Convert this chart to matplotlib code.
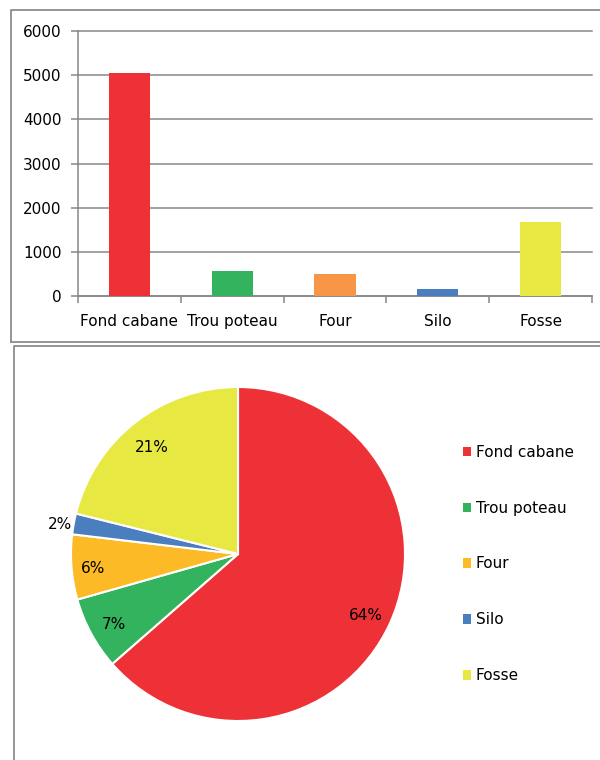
import matplotlib
matplotlib.use('Agg')
import matplotlib.pyplot as plt
from matplotlib.lines import Line2D
from matplotlib.patches import Patch

# data
categories = ['Fond cabane', 'Trou poteau', 'Four', 'Silo', 'Fosse']
counts = [5060, 560, 500, 160, 1680]
yticks = [0, 1000, 2000, 3000, 4000, 5000, 6000]

bar_colors = ['#EE3137', '#33B35D', '#F79646', '#4A7EBF', '#E8E843']
pie_colors = ['#EE3137', '#33B35D', '#FBBA26', '#4A7EBF', '#E8E843']
grey = '#878787'

W, H = 600, 760
plt.rcParams['font.family'] = ['DejaVu Sans']
fig = plt.figure(figsize=(W / 100, H / 100), dpi=100)


def fx(px):
    return px / W


def fy(py):
    return 1 - py / H


# panel frames
frame_kw = dict(color='#8c8c8c', lw=1.3, transform=fig.transFigure)
fig.add_artist(Line2D([fx(11), fx(11), 1.02, 1.02], [fy(342), fy(10), fy(10), fy(342)], **frame_kw))
fig.add_artist(Line2D([fx(11), 1.02], [fy(342), fy(342)], **frame_kw))
fig.add_artist(Line2D([fx(13.5), fx(13.5), 1.02], [-0.02, fy(346), fy(346)], **frame_kw))

# ---- bar chart ----
ax = fig.add_axes([fx(78), fy(296), fx(592) - fx(78), fy(31) - fy(296)])
x = list(range(len(categories)))
ax.bar(x, counts, width=0.4, color=bar_colors, zorder=3)
ax.set_xlim(-0.5, len(categories) - 0.5)
ax.set_ylim(0, 6000)
ax.set_yticks(yticks)
ax.yaxis.grid(True, color=grey, lw=1.1, zorder=0)
for gl in ax.get_ygridlines():
    gl.set_clip_on(False)
ax.set_axisbelow(True)
for s in ['top', 'right']:
    ax.spines[s].set_visible(False)
for s in ['left', 'bottom']:
    ax.spines[s].set_color(grey)
    ax.spines[s].set_linewidth(1.1)
ax.set_xticks([i - 0.5 for i in range(len(categories) + 1)])
ax.set_xticklabels([])
ax.set_xticks(x, minor=True)
ax.set_xticklabels(categories, minor=True)
ax.tick_params(axis='x', which='major', direction='out', length=5, color=grey, width=1.1)
ax.tick_params(axis='x', which='minor', length=0, labelsize=11, pad=13)
ax.tick_params(axis='y', direction='out', length=5, color=grey, width=1.1, labelsize=11, pad=7)

# ---- pie chart ----
pax = fig.add_axes([fx(71), fy(721), fx(405) - fx(71), fy(387) - fy(721)])
wedges, _, pct_texts = pax.pie(counts, colors=pie_colors, startangle=90, counterclock=False,
                               autopct='%.0f%%', radius=1,
                               wedgeprops=dict(edgecolor='white', linewidth=1.5),
                               textprops=dict(fontsize=11, color='black'))
pax.set_xlim(-1, 1)
pax.set_ylim(-1, 1)
pax.set_aspect('auto')
label_pos = [(0.766, -0.371), (-0.743, -0.425), (-0.868, -0.084), (-1.066, 0.174), (-0.515, 0.635)]
for t, p in zip(pct_texts, label_pos):
    t.set_position(p)
    t.set_clip_on(False)

handles = [Patch(facecolor=c, edgecolor='none') for c in pie_colors]
fig.legend(handles, categories, loc='center left', bbox_to_anchor=(fx(463), fy(564)),
           frameon=False, fontsize=11, handlelength=0.55, handleheight=0.55,
           handletextpad=0.3, labelspacing=2.68, borderpad=0, borderaxespad=0)

fig.savefig('out.png', dpi=100)
